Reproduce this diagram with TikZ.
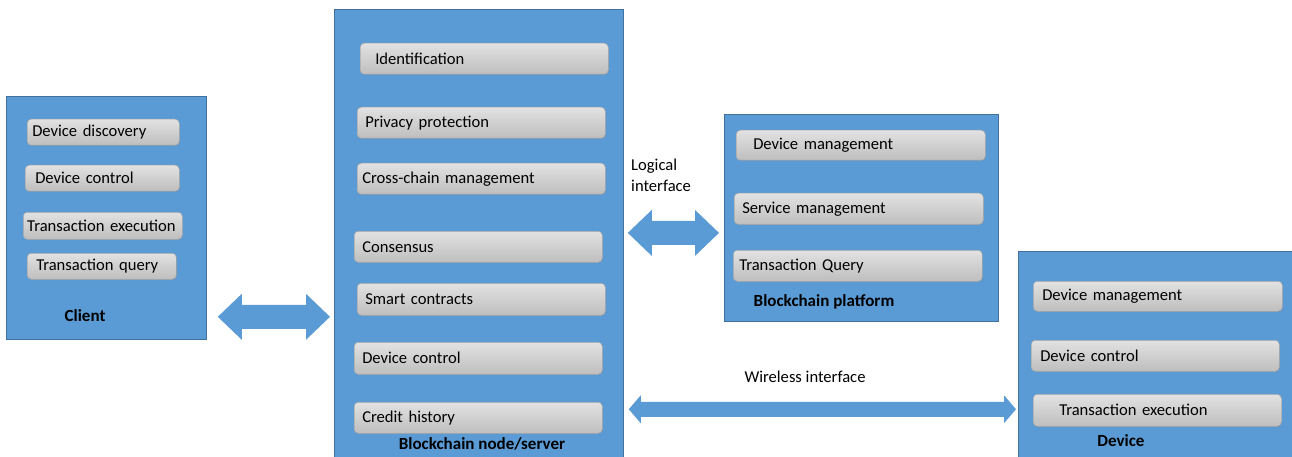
\documentclass[tikz,border=0pt]{standalone}
\usepackage{fontspec}
\setmainfont{Carlito}
\usetikzlibrary{calc,shadows}
\definecolor{panelblue}{HTML}{5B9BD5}
\definecolor{paneledge}{HTML}{41719C}
\definecolor{itemedge}{HTML}{A8A8A8}
\definecolor{itemtop}{HTML}{E2E2E2}
\definecolor{itembot}{HTML}{BEBEBE}

% double-headed block arrow between two tip coordinates
% #1,#2 tips; #3 head length; #4 half head width; #5 half shaft width
\newcommand{\blockarrow}[5]{%
  \fill[arrowfill] (#1) -- ++(#3,-#4) -- ++(0,#4-#5) -- ($(#2)+(-#3,-#5)$)
    -- ++(0,#5-#4) -- (#2) -- ++(-#3,#4) -- ++(0,#5-#4)
    -- ($(#1)+(#3,#5)$) -- ++(0,#4-#5) -- cycle;}

\begin{document}
\begin{tikzpicture}[x=1pt,y=-1pt,
  every node/.style={font=\fontsize{16.6}{21}\selectfont},
  panel/.style={draw=paneledge, line width=0.8pt, fill=panelblue, anchor=north west, inner sep=0pt},
  item/.style 2 args={anchor=north west, rounded corners=4pt, draw=itemedge, line width=0.5pt,
     top color=itemtop, bottom color=itembot, inner xsep=0pt, inner ysep=0pt,
     text width=#1pt, align=left, execute at begin node={\hspace*{#2pt}},
     drop shadow={opacity=0.25, shadow xshift=0.8pt, shadow yshift=-0.8pt}},
  title/.style={font=\fontsize{17}{21}\selectfont\bfseries, text=black},
  arrowfill/.style={fill=panelblue}]

\useasboundingbox (0,0) rectangle (1292,457);

% panels
\node[panel, minimum width=200pt, minimum height=243pt] (client) at (6,96) {};
\node[panel, minimum width=289pt, minimum height=455pt] (server) at (334,9) {};
\node[panel, minimum width=274pt, minimum height=207pt] (platform) at (724,114) {};
\node[panel, minimum width=274pt, minimum height=210pt] (device) at (1018,251) {};

% client functions
\node[item={152}{5}, minimum height=26pt] (cl1) at (27,119) {Device discovery};
\node[item={154}{10}, minimum height=26pt] (cl2) at (25,165) {Device control};
\node[item={159}{4}, minimum height=27pt] (cl3) at (23,212) {Transaction execution};
\node[item={149}{9}, minimum height=26pt] (cl4) at (27,253) {Transaction query};
\node[title] (clientlabel) at (85,316) {Client};

% blockchain node functions
\node[item={248}{15}, minimum height=31pt] (s1) at (360,43) {Identification};
\node[item={248}{8}, minimum height=31pt] (s2) at (357,107) {Privacy protection};
\node[item={248}{5}, minimum height=31pt] (s3) at (357,163) {Cross-chain management};
\node[item={248}{8}, minimum height=31pt] (s4) at (354,231) {Consensus};
\node[item={248}{8}, minimum height=32pt] (s5) at (357,283) {Smart contracts};
\node[item={248}{8}, minimum height=32pt] (s6) at (354,342) {Device control};
\node[item={248}{8}, minimum height=31pt] (s7) at (354,402) {Credit history};
\node[title] (serverlabel) at (482,444) {Blockchain node/server};

% blockchain platform functions
\node[item={249}{17}, minimum height=30pt] (p1) at (736,130) {Device management};
\node[item={249}{8}, minimum height=31pt] (p2) at (734,193) {Service management};
\node[item={249}{6}, minimum height=31pt] (p3) at (733,250) {Transaction Query};
\node[title] (platformlabel) at (824,302) {Blockchain platform};

% device functions
\node[item={249}{9}, minimum height=30pt] (d1) at (1033,281) {Device management};
\node[item={248}{9}, minimum height=31pt] (d2) at (1031,340) {Device control};
\node[item={248}{26}, minimum height=32pt] (d3) at (1033,394) {Transaction execution};
\node[title] (devicelabel) at (1121,441) {Device};

% interfaces
\coordinate (a1l) at ($(client.south east)+(11,-23)$);
\coordinate (a1r) at ($(a1l -| server.west)+(-4,0)$);
\blockarrow{a1l}{a1r}{24}{23}{12}

\coordinate (a2l) at ($(server.east |- platform.west)+(4,15)$);
\coordinate (a2r) at ($(a2l -| platform.west)+(-5,0)$);
\blockarrow{a2l}{a2r}{24}{23}{12}
\node[anchor=west, align=left, inner sep=0pt] (logical) at (631,175) {Logical\\interface};

\coordinate (a3l) at ($(server.east |- d3.west)+(5,-1)$);
\coordinate (a3r) at ($(a3l -| device.west)+(-2,0)$);
\blockarrow{a3l}{a3r}{12}{14}{7.5}
\node (wireless) at (805,377) {Wireless interface};
\end{tikzpicture}
\end{document}
